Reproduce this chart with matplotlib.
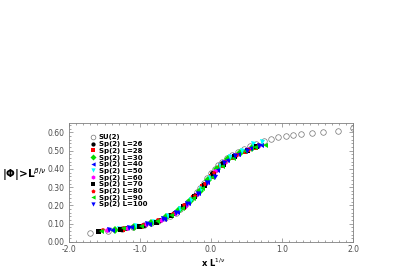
import matplotlib
matplotlib.use("Agg")
import matplotlib.pyplot as plt
from matplotlib.ticker import MultipleLocator, FormatStrFormatter

# SU(2) reference curve (open circles)
su2_x = [-1.70, -1.45, -1.25, -1.10, -0.95, -0.85, -0.75, -0.65, -0.58, -0.50,
         -0.44, -0.38, -0.32, -0.26, -0.20, -0.15, -0.10, -0.05, 0.00, 0.05,
         0.10, 0.15, 0.22, 0.30, 0.38, 0.46, 0.55, 0.64, 0.74, 0.84,
         0.95, 1.05, 1.15, 1.27, 1.42, 1.58, 1.79, 2.00]
su2_y = [0.048, 0.060, 0.070, 0.080, 0.092, 0.102, 0.115, 0.130, 0.142, 0.160,
         0.178, 0.198, 0.220, 0.245, 0.272, 0.298, 0.325, 0.352, 0.378, 0.400,
         0.420, 0.438, 0.458, 0.478, 0.495, 0.510, 0.524, 0.538, 0.551, 0.563,
         0.573, 0.580, 0.585, 0.590, 0.595, 0.600, 0.610, 0.625]

# Sp(2) data for each lattice size
L26_x = [-1.20, -0.95, -0.72, -0.52, -0.36, -0.22, -0.10, 0.02, 0.16, 0.32, 0.50]
L26_y = [0.076, 0.093, 0.120, 0.160, 0.205, 0.258, 0.318, 0.375, 0.430, 0.473, 0.505]
L28_x = [-1.25, -1.00, -0.78, -0.58, -0.40, -0.25, -0.12, 0.00, 0.13, 0.28, 0.46, 0.62]
L28_y = [0.073, 0.089, 0.112, 0.145, 0.192, 0.245, 0.305, 0.362, 0.420, 0.465, 0.497, 0.520]
L30_x = [-1.35, -1.08, -0.84, -0.63, -0.45, -0.30, -0.16, -0.04, 0.09, 0.24, 0.41, 0.58]
L30_y = [0.068, 0.084, 0.104, 0.135, 0.175, 0.222, 0.280, 0.340, 0.400, 0.455, 0.488, 0.515]
L40_x = [-1.40, -1.12, -0.88, -0.66, -0.48, -0.32, -0.18, -0.05, 0.08, 0.22, 0.38, 0.55, 0.70]
L40_y = [0.066, 0.080, 0.100, 0.128, 0.166, 0.212, 0.266, 0.330, 0.392, 0.448, 0.482, 0.512, 0.532]
L50_x = [-1.30, -1.05, -0.80, -0.60, -0.43, -0.28, -0.14, -0.02, 0.12, 0.27, 0.44, 0.59, 0.72]
L50_y = [0.071, 0.086, 0.110, 0.142, 0.182, 0.232, 0.292, 0.352, 0.418, 0.466, 0.500, 0.538, 0.548]
L60_x = [-1.47, -1.18, -0.92, -0.70, -0.51, -0.35, -0.20, -0.07, 0.06, 0.20, 0.35, 0.52, 0.66]
L60_y = [0.066, 0.077, 0.096, 0.122, 0.158, 0.204, 0.262, 0.322, 0.388, 0.440, 0.478, 0.508, 0.528]
L70_x = [-1.59, -1.28, -1.02, -0.78, -0.56, -0.39, -0.24, -0.10, 0.03, 0.17, 0.33, 0.50, 0.64]
L70_y = [0.060, 0.073, 0.088, 0.112, 0.150, 0.196, 0.250, 0.312, 0.372, 0.428, 0.470, 0.502, 0.524]
L80_x = [-1.52, -1.22, -0.96, -0.74, -0.54, -0.38, -0.23, -0.09, 0.04, 0.19, 0.36, 0.53, 0.68]
L80_y = [0.063, 0.075, 0.092, 0.120, 0.155, 0.200, 0.254, 0.316, 0.378, 0.436, 0.476, 0.505, 0.530]
L90_x = [-1.55, -1.24, -0.98, -0.76, -0.57, -0.41, -0.26, -0.12, 0.01, 0.15, 0.31, 0.48, 0.62, 0.76]
L90_y = [0.062, 0.074, 0.090, 0.114, 0.146, 0.188, 0.240, 0.298, 0.358, 0.418, 0.462, 0.496, 0.518, 0.532]
L100_x = [-1.43, -1.15, -0.90, -0.68, -0.50, -0.34, -0.19, -0.06, 0.05, 0.18, 0.34, 0.51, 0.67]
L100_y = [0.065, 0.079, 0.098, 0.124, 0.160, 0.206, 0.262, 0.325, 0.357, 0.430, 0.472, 0.500, 0.525]

sp2_sets = [
    ("Sp(2) L=26", L26_x, L26_y, "black", "o"),
    ("Sp(2) L=28", L28_x, L28_y, "red", "s"),
    ("Sp(2) L=30", L30_x, L30_y, "#00dd00", "D"),
    ("Sp(2) L=40", L40_x, L40_y, "blue", "<"),
    ("Sp(2) L=50", L50_x, L50_y, "cyan", "v"),
    ("Sp(2) L=60", L60_x, L60_y, "magenta", "h"),
    ("Sp(2) L=70", L70_x, L70_y, "black", "s"),
    ("Sp(2) L=80", L80_x, L80_y, "red", "p"),
    ("Sp(2) L=90", L90_x, L90_y, "#00dd00", "<"),
    ("Sp(2) L=100", L100_x, L100_y, "blue", "v"),
]

fig = plt.figure(figsize=(4.14, 2.73), dpi=100)
ax = fig.add_axes([0.1667, 0.1136, 0.686, 0.435])

ax.plot(su2_x, su2_y, linestyle="none", marker="o", markersize=4,
        markerfacecolor="none", markeredgecolor="0.45", markeredgewidth=0.5,
        label="SU(2)")
for label, xs, ys, col, mk in sp2_sets:
    ax.plot(xs, ys, linestyle="none", marker=mk, markersize=3.6,
            color=col, markeredgewidth=0, label=label)

ax.set_xlim(-2.0, 2.0)
ax.set_ylim(0.0, 0.65)
ax.xaxis.set_major_locator(MultipleLocator(1.0))
ax.xaxis.set_minor_locator(MultipleLocator(0.1))
ax.yaxis.set_major_locator(MultipleLocator(0.1))
ax.yaxis.set_minor_locator(MultipleLocator(0.02))
ax.xaxis.set_major_formatter(FormatStrFormatter("%.1f"))
ax.yaxis.set_major_formatter(FormatStrFormatter("%.2f"))
ax.tick_params(which="both", direction="in", top=True, right=True,
               color="0.5", width=0.5, labelsize=5.5, labelcolor="0.3")
ax.tick_params(axis="y", pad=3.5)
ax.tick_params(axis="x", pad=2.5)
ax.tick_params(which="major", length=3)
ax.tick_params(which="minor", length=1.5)
for sp in ax.spines.values():
    sp.set_color("0.5")
    sp.set_linewidth(0.6)

fig.text(0.515, 0.038, r"x L$^{1/\nu}$", fontsize=6, fontweight="bold",
         ha="center", va="center")
fig.text(0.004, 0.36, r"|Φ|>L$^{\beta/\nu}$", fontsize=7.5, fontweight="bold",
         ha="left", va="center")

leg = ax.legend(loc="upper left", bbox_to_anchor=(0.06, 0.935), frameon=False,
                prop={"size": 5, "weight": "bold"}, handletextpad=0.35,
                labelspacing=0.1, borderpad=0, handlelength=1.0,
                markerscale=0.85)

fig.savefig("out.png", dpi=100)
